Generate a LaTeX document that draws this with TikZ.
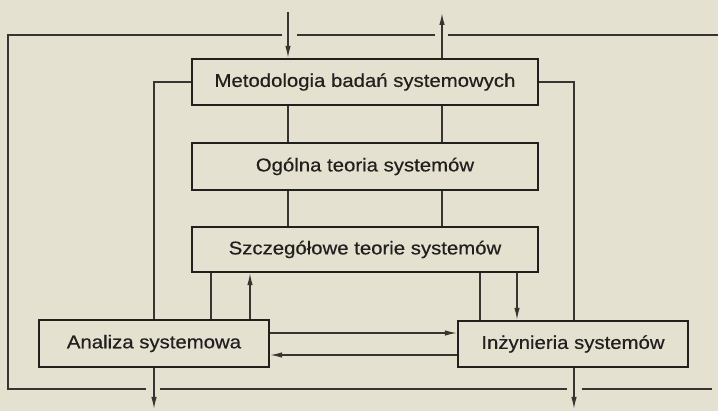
\documentclass[tikz,border=0pt]{standalone}
\usepackage{fontspec}
\newfontfamily\labelfont[FakeStretch=1.1,FakeBold=0.5]{Liberation Sans}
\usetikzlibrary{arrows.meta,calc}
\definecolor{paper}{RGB}{228,225,209}
\definecolor{ink}{RGB}{34,32,30}
\definecolor{rule}{RGB}{55,53,50}
\tikzset{
  box/.style={draw=ink, line width=2.3pt, fill=paper, inner sep=0pt,
    font=\labelfont\fontsize{18.5}{20}\selectfont, text=ink},
  link/.style={draw=rule, line width=1.4pt},
  tip/.style={link, -{Latex[length=12pt,width=5.5pt]}},
}
\begin{document}
\begin{tikzpicture}[x=1pt, y=-1pt]
  \fill[paper] (0,0) rectangle (718,411);
  \useasboundingbox (0,0) rectangle (718,411);

  % boxes
  \node[box, minimum width=346pt, minimum height=46pt] (met) at (365,82) {Metodologia badań systemowych};
  \node[box, minimum width=346pt, minimum height=47pt] (ogt) at (365,166.5) {Ogólna teoria systemów};
  \node[box, minimum width=346pt, minimum height=45pt] (szt) at (365,249.5) {Szczegółowe  teorie systemów};
  \node[box, minimum width=230pt, minimum height=47pt] (ana) at (154,343.5) {Analiza systemowa};
  \node[box, minimum width=230pt, minimum height=46pt] (inz) at (573,344) {Inżynieria systemów};

  % vertical guide positions
  \coordinate (cin)  at (288,0);
  \coordinate (cout) at (442,0);
  \coordinate (cl)   at (154,0);
  \coordinate (cr)   at (574,0);
  \coordinate (ca1)  at (211,0);
  \coordinate (ca2)  at (250,0);
  \coordinate (ci1)  at (480,0);
  \coordinate (ci2)  at (517,0);

  % free ends of the external arrows
  \coordinate (inTop)  at (288,12);
  \coordinate (outTop) at (442,13);
  \coordinate (anaOut) at (154,409);
  \coordinate (inzOut) at (574,409);

  % enclosing frame (broken where the arrows cross)
  \draw[link] (282,35) -- (8,35) -- (8,389) -- (146,389);
  \draw[link] (297,35) -- (435,35);
  \draw[link] (448,35) -- (718,35);
  \draw[link] (160,389) -- (567,389);
  \draw[link] (582,389) -- (712,389);

  % input and output of the methodology box
  \draw[tip] (inTop) -- (met.north -| cin);
  \draw[tip] (met.north -| cout) -- (outTop);

  % methodology -> general theory -> detailed theories
  \draw[link] (met.south -| cin)  -- (ogt.north -| cin);
  \draw[link] (met.south -| cout) -- (ogt.north -| cout);
  \draw[link] (ogt.south -| cin)  -- (szt.north -| cin);
  \draw[link] (ogt.south -| cout) -- (szt.north -| cout);

  % methodology to analysis and engineering
  \draw[link] (met.west) -| (ana.north -| cl);
  \draw[link] (met.east) -| (inz.north -| cr);

  % detailed theories <-> analysis / engineering
  \draw[link] (szt.south -| ca1) -- (ana.north -| ca1);
  \draw[tip]  (ana.north -| ca2) -- (szt.south -| ca2);
  \draw[link] (szt.south -| ci1) -- (inz.north -| ci1);
  \draw[tip]  (szt.south -| ci2) -- (inz.north -| ci2);

  % analysis <-> engineering
  \draw[tip] (ana.east |- 0,333) -- (inz.west |- 0,333);
  \draw[tip] (inz.west |- 0,355) -- (ana.east |- 0,355);

  % outputs
  \draw[tip] (ana.south -| cl) -- (anaOut);
  \draw[tip] (inz.south -| cr) -- (inzOut);
\end{tikzpicture}
\end{document}
